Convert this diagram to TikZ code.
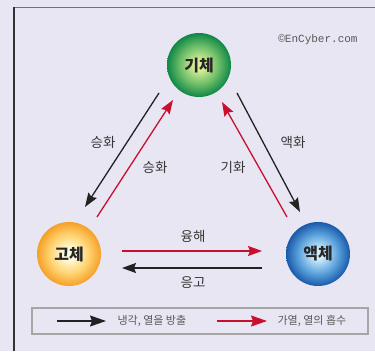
\documentclass[tikz,border=0pt]{standalone}
\usepackage{fontspec}
\setmainfont{Noto Sans CJK KR}
\newfontfamily\monof{Liberation Mono}
\usetikzlibrary{arrows.meta}
\definecolor{bg}{RGB}{232,230,242}
\definecolor{redarr}{RGB}{200,16,46}
\definecolor{blackarr}{RGB}{34,34,34}
\definecolor{labtxt}{RGB}{55,55,55}
\definecolor{gin}{RGB}{215,238,150}
\definecolor{gmid}{RGB}{110,190,105}
\definecolor{gout}{RGB}{15,135,70}
\definecolor{oin}{RGB}{255,251,222}
\definecolor{omid}{RGB}{255,212,115}
\definecolor{oout}{RGB}{245,160,40}
\definecolor{bin}{RGB}{205,236,252}
\definecolor{bmid}{RGB}{95,165,222}
\definecolor{bout}{RGB}{25,90,170}
\pgfdeclareradialshading{greenball}{\pgfpoint{0bp}{0bp}}{color(0bp)=(gin); color(4bp)=(gin); color(15bp)=(gmid); color(25bp)=(gout); color(50bp)=(gout)}
\pgfdeclareradialshading{orangeball}{\pgfpoint{0bp}{0bp}}{color(0bp)=(oin); color(4bp)=(oin); color(15bp)=(omid); color(25bp)=(oout); color(50bp)=(oout)}
\pgfdeclareradialshading{blueball}{\pgfpoint{0bp}{0bp}}{color(0bp)=(bin); color(4bp)=(bin); color(15bp)=(bmid); color(25bp)=(bout); color(50bp)=(bout)}
\tikzset{
  phase/.style={circle, minimum size=64pt, inner sep=0pt, font=\fontsize{16}{16}\selectfont\bfseries, text=black!85},
  blackarrow/.style={draw=blackarr, line width=1.3pt, -{Stealth[length=14pt,width=10pt,inset=2pt]}},
  redarrow/.style={draw=redarr, line width=1.3pt, -{Stealth[length=14pt,width=10pt,inset=2pt]}},
  lbl/.style={font=\fontsize{13.5}{14}\selectfont, text=labtxt},
  legtxt/.style={font=\fontsize{11}{12}\selectfont, text=black!65, anchor=west},
  legarrow/.style={line width=1.3pt, -{Stealth[length=16pt,width=11pt,inset=2pt]}}
}
\begin{document}
\begin{tikzpicture}[x=1pt,y=-1pt]
\useasboundingbox (0,0) rectangle (375,351);
\fill[bg] (0,0) rectangle (375,351);
% frame
\draw[black!55, line width=1pt] (14,7.5) -- (375,7.5);
\draw[black!80, line width=1.3pt] (14,7) -- (14,351);
% copyright
\node[font=\monof\fontsize{11}{12}\selectfont, text=black!65] (copy) at (318,40) {©EnCyber.com};
% phases
\node[phase, shading=greenball] (gas) at (199,65) {기체};
\node[phase, shading=orangeball] (solid) at (69,254) {고체};
\node[phase, shading=blueball] (liquid) at (318,254) {액체};
% arrow end points
\coordinate (s1a) at (159,93);  \coordinate (s1b) at (85,207);
\coordinate (s2a) at (97,217);  \coordinate (s2b) at (173,100);
\coordinate (l1a) at (237,93);  \coordinate (l1b) at (300,212);
\coordinate (v1a) at (287,217); \coordinate (v1b) at (222,102);
\coordinate (m1a) at (122,251); \coordinate (m1b) at (262,251);
\coordinate (f1a) at (262,268); \coordinate (f1b) at (122,268);
\draw[blackarrow] (s1a) -- (s1b);
\draw[redarrow] (s2a) -- (s2b);
\draw[blackarrow] (l1a) -- (l1b);
\draw[redarrow] (v1a) -- (v1b);
\draw[redarrow] (m1a) -- (m1b);
\draw[blackarrow] (f1a) -- (f1b);
% labels
\node[lbl] (t1) at (103,142) {승화};
\node[lbl] (t2) at (155,167) {승화};
\node[lbl] (t3) at (293,142) {액화};
\node[lbl] (t4) at (233,167) {기화};
\node[lbl] (t5) at (193,236) {융해};
\node[lbl] (t6) at (193,283) {응고};
% legend
\node[draw=black!35, line width=1.2pt, minimum width=336pt, minimum height=26pt, inner sep=0pt] (legend) at (200,321) {};
\coordinate (la) at (57,321); \coordinate (lb) at (106,321);
\coordinate (ra) at (217,321); \coordinate (rb) at (267,321);
\draw[legarrow, draw=blackarr] (la) -- (lb);
\draw[legarrow, draw=redarr] (ra) -- (rb);
\node[legtxt] (lt1) at (114,321) {냉각, 열을 방출};
\node[legtxt] (lt2) at (274,321) {가열, 열의 흡수};
\end{tikzpicture}
\end{document}
